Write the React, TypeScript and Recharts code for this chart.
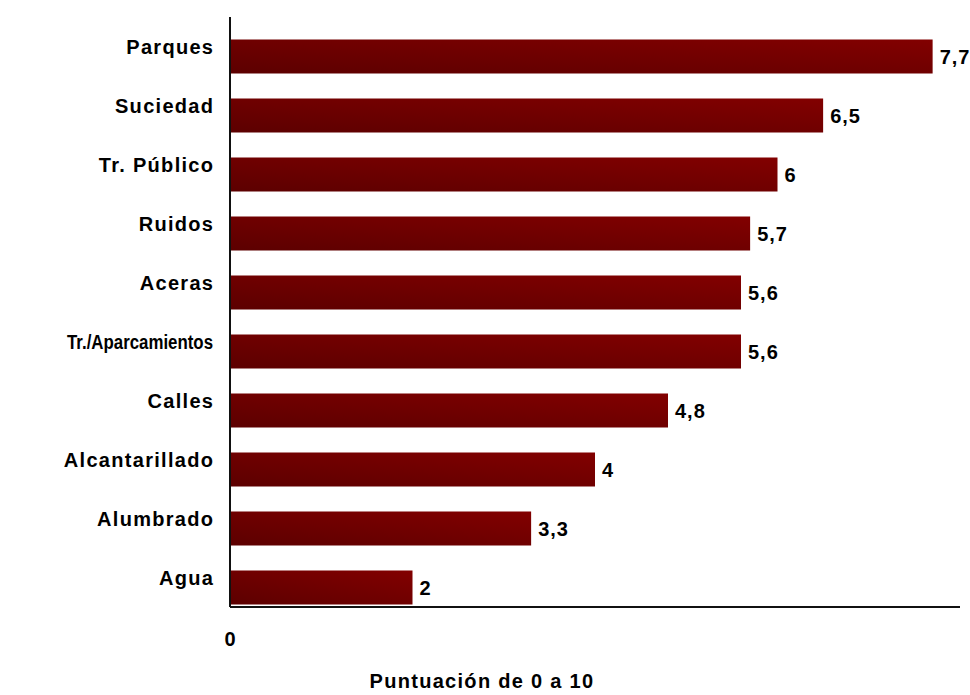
import { BarChart, Bar, XAxis, YAxis, LabelList, Rectangle } from "recharts";

const categories = [
  "Parques",
  "Suciedad",
  "Tr. Público",
  "Ruidos",
  "Aceras",
  "Tr./Aparcamientos",
  "Calles",
  "Alcantarillado",
  "Alumbrado",
  "Agua",
];
const scores = [7.7, 6.5, 6, 5.7, 5.6, 5.6, 4.8, 4, 3.3, 2];
const xTicks = [0];
const xTitle = "Puntuación de 0 a 10";

const data = categories.map((name, i) => ({ name, score: scores[i] }));

const FONT = '"Liberation Sans", Arial, sans-serif';
// bars sit a little below the centre of their band in the original
const SHIFT = 9.5;

const fmt = (v: number) => String(v).replace(".", ",");

const textStyle = {
  fontFamily: FONT,
  fontWeight: "bold" as const,
  fontSize: 20,
  fill: "#000",
};

function ShiftedBar(props: any) {
  return <Rectangle {...props} y={props.y + SHIFT} fill="url(#barGrad)" />;
}

function ValueLabel(props: any) {
  const { x, y, width, height, value } = props;
  return (
    <text
      x={x + width + 7}
      y={y + height / 2 + SHIFT}
      dominantBaseline="central"
      letterSpacing={1}
      {...textStyle}
    >
      {fmt(value)}
    </text>
  );
}

function CategoryTick(props: any) {
  const { x, y, payload } = props;
  const long = payload.value.length > 14;
  return (
    <text
      x={x - 17}
      y={y}
      textAnchor="end"
      dominantBaseline="central"
      letterSpacing={long ? 0 : 1.3}
      textLength={long ? 146 : undefined}
      lengthAdjust="spacingAndGlyphs"
      {...textStyle}
      dx={long ? 0 : 1.3}
    >
      {payload.value}
    </text>
  );
}

function ZeroTick(props: any) {
  const { x, y, payload } = props;
  return (
    <text x={x} y={y + 32} textAnchor="middle" dominantBaseline="central" {...textStyle}>
      {payload.value}
    </text>
  );
}

function Title() {
  return (
    <text
      x={482}
      y={681}
      textAnchor="middle"
      dominantBaseline="central"
      letterSpacing={1.3}
      {...textStyle}
    >
      {xTitle}
    </text>
  );
}

export default function App() {
  return (
    <div style={{ position: "absolute", left: 0, top: 0, background: "#fff" }}>
      <BarChart
        width={970}
        height={695}
        data={data}
        layout="vertical"
        margin={{ top: 17, right: 10, bottom: 0, left: 0 }}
        barSize={34}
      >
        <defs>
          <linearGradient id="barGrad" x1="0" y1="1" x2="1" y2="0">
            <stop offset="0%" stopColor="#5c0000" />
            <stop offset="100%" stopColor="#820000" />
          </linearGradient>
        </defs>
        <XAxis
          type="number"
          domain={[0, 8]}
          ticks={xTicks}
          tickLine={false}
          tickSize={0}
          tickMargin={0}
          axisLine={{ stroke: "#111", strokeWidth: 2 }}
          tick={<ZeroTick />}
          height={88}
          label={{ content: () => <Title /> }}
        />
        <YAxis
          type="category"
          dataKey="name"
          width={230}
          tickLine={false}
          tickSize={0}
          tickMargin={0}
          axisLine={{ stroke: "#111", strokeWidth: 2 }}
          tick={<CategoryTick />}
          interval={0}
        />
        <Bar dataKey="score" shape={<ShiftedBar />} isAnimationActive={false}>
          <LabelList dataKey="score" content={<ValueLabel />} />
        </Bar>
      </BarChart>
    </div>
  );
}
